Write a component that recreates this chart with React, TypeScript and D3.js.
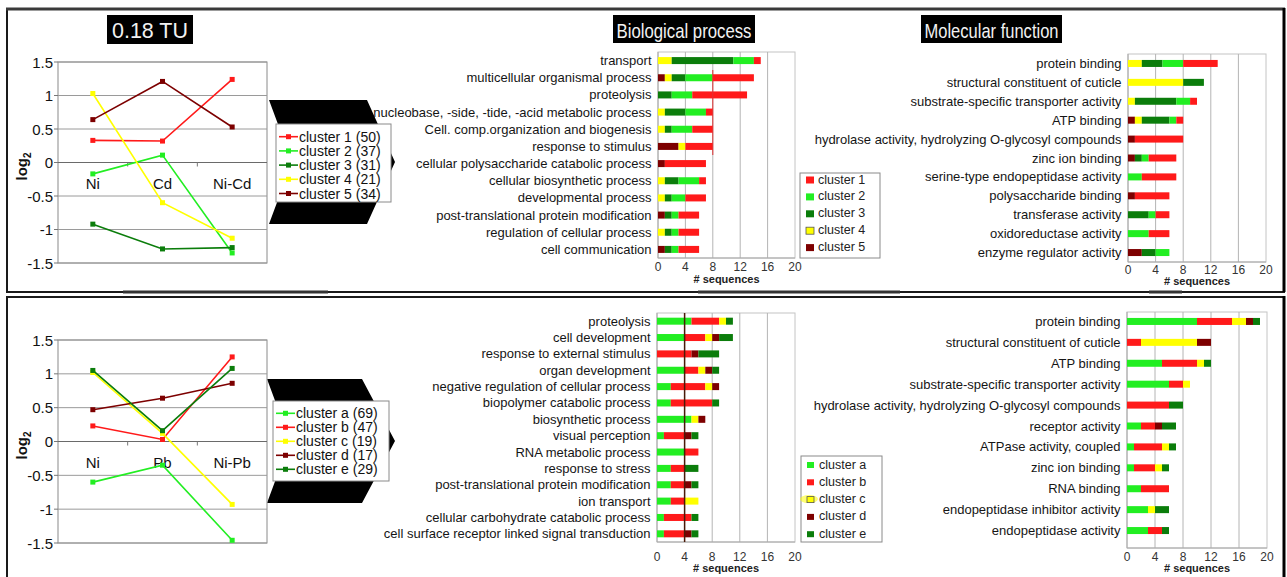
import React from "react";
import * as d3 from "d3";

const FONT = "'Liberation Sans', Arial, Helvetica, sans-serif";

const RED = "#ff1a1a";
const GREEN = "#22ee22";
const DKGREEN = "#0b7d0b";
const YELLOW = "#ffff00";
const DKRED = "#7d0000";

// ---------- top profile chart (0.18 TU) ----------
const topConditions = ["Ni", "Cd", "Ni-Cd"];
const topClusterNames = ["cluster 1", "cluster 2", "cluster 3", "cluster 4", "cluster 5"];
const topClusterSizes = [50, 37, 31, 21, 34];
const topCluster1 = [0.33, 0.32, 1.24];
const topCluster2 = [-0.17, 0.11, -1.35];
const topCluster3 = [-0.92, -1.29, -1.27];
const topCluster4 = [1.03, -0.6, -1.13];
const topCluster5 = [0.64, 1.21, 0.53];
const topLineColors = [RED, GREEN, DKGREEN, YELLOW, DKRED];

// ---------- bottom profile chart ----------
const botConditions = ["Ni", "Pb", "Ni-Pb"];
const botClusterNames = ["cluster a", "cluster b", "cluster c", "cluster d", "cluster e"];
const botClusterSizes = [69, 47, 19, 17, 29];
const botClusterA = [-0.6, -0.35, -1.46];
const botClusterB = [0.23, 0.03, 1.25];
const botClusterC = [1.02, 0.12, -0.93];
const botClusterD = [0.47, 0.64, 0.86];
const botClusterE = [1.05, 0.16, 1.08];
const botLineColors = [GREEN, RED, YELLOW, DKRED, DKGREEN];

const logTicks = [-1.5, -1, -0.5, 0, 0.5, 1, 1.5];
const seqTicks = [0, 4, 8, 12, 16, 20];

// ---------- top biological process ----------
const topBPCategories = [
  "transport",
  "multicellular organismal process",
  "proteolysis",
  "nucleobase, -side, -tide, -acid metabolic process",
  "Cell. comp.organization and biogenesis",
  "response to stimulus",
  "cellular polysaccharide catabolic process",
  "cellular biosynthetic process",
  "developmental process",
  "post-translational protein modification",
  "regulation of cellular process",
  "cell communication",
];
const topBP_c1 = [1, 6, 8, 1, 3, 4, 6, 1, 3, 3, 3, 3];
const topBP_c2 = [3, 4, 3, 3, 3, 0, 0, 3, 2, 1, 1, 1];
const topBP_c3 = [9, 2, 2, 3, 1, 0, 0, 2, 1, 1, 1, 1];
const topBP_c4 = [2, 1, 0, 1, 1, 1, 0, 1, 1, 0, 1, 0];
const topBP_c5 = [0, 1, 0, 0, 0, 3, 1, 0, 0, 1, 0, 1];

// ---------- top molecular function ----------
const topMFCategories = [
  "protein binding",
  "structural constituent of cuticle",
  "substrate-specific transporter activity",
  "ATP binding",
  "hydrolase activity, hydrolyzing O-glycosyl compounds",
  "zinc ion binding",
  "serine-type endopeptidase activity",
  "polysaccharide binding",
  "transferase activity",
  "oxidoreductase activity",
  "enzyme regulator activity",
];
const topMF_c1 = [5, 0, 1, 1, 7, 4, 5, 5, 2, 3, 0];
const topMF_c2 = [3, 0, 2, 1, 0, 1, 2, 0, 1, 3, 2];
const topMF_c3 = [3, 3, 6, 4, 0, 1, 0, 0, 3, 0, 2];
const topMF_c4 = [2, 8, 1, 1, 0, 0, 0, 0, 0, 0, 0];
const topMF_c5 = [0, 0, 0, 1, 1, 1, 0, 1, 0, 0, 2];

// ---------- bottom biological process ----------
const botBPCategories = [
  "proteolysis",
  "cell development",
  "response to external stimulus",
  "organ development",
  "negative regulation of cellular process",
  "biopolymer catabolic process",
  "biosynthetic process",
  "visual perception",
  "RNA metabolic process",
  "response to stress",
  "post-translational protein modification",
  "ion transport",
  "cellular carbohydrate catabolic process",
  "cell surface receptor linked signal transduction",
];
const botBP_a = [5, 4, 0, 4, 2, 2, 5, 1, 4, 2, 2, 2, 1, 1];
const botBP_b = [4, 3, 5, 2, 5, 6, 0, 3, 2, 2, 2, 2, 4, 3];
const botBP_c = [1, 1, 0, 1, 1, 0, 1, 0, 0, 0, 0, 2, 0, 0];
const botBP_d = [0, 1, 1, 1, 1, 0, 1, 1, 0, 0, 1, 0, 0, 1];
const botBP_e = [1, 2, 3, 1, 0, 1, 0, 1, 0, 2, 1, 0, 1, 1];

// ---------- bottom molecular function ----------
const botMFCategories = [
  "protein binding",
  "structural constituent of cuticle",
  "ATP binding",
  "substrate-specific transporter activity",
  "hydrolase activity, hydrolyzing O-glycosyl compounds",
  "receptor activity",
  "ATPase activity, coupled",
  "zinc ion binding",
  "RNA binding",
  "endopeptidase inhibitor activity",
  "endopeptidase activity",
];
const botMF_a = [10, 0, 5, 6, 0, 2, 1, 1, 2, 3, 3];
const botMF_b = [5, 2, 5, 2, 6, 2, 4, 3, 4, 0, 2];
const botMF_c = [2, 8, 1, 1, 0, 0, 1, 1, 0, 1, 0];
const botMF_d = [1, 2, 0, 0, 0, 1, 0, 0, 0, 0, 0];
const botMF_e = [1, 0, 1, 0, 2, 2, 1, 1, 0, 2, 1];

const topBarLegend = ["cluster 1", "cluster 2", "cluster 3", "cluster 4", "cluster 5"];
const topBarLegendColors = [RED, GREEN, DKGREEN, YELLOW, DKRED];
const botBarLegend = ["cluster a", "cluster b", "cluster c", "cluster d", "cluster e"];
const botBarLegendColors = [GREEN, RED, YELLOW, DKRED, DKGREEN];

type Series = { values: number[]; color: string; name: string; size: number };

function ProfileChart(props: {
  x0: number; x1: number; y0: number; y1: number;
  conditions: string[]; series: Series[];
  legend: { x: number; y: number; w: number; h: number; rowY: number; step: number };
}) {
  const { x0, x1, y0, y1, conditions, series, legend } = props;
  const y = d3.scaleLinear().domain([-1.5, 1.5]).range([y1, y0]);
  const xb = d3.scaleBand().domain(conditions).range([x0, x1]);
  const cx = (c: string) => (xb(c) as number) + xb.bandwidth() / 2;
  const line = d3.line<number>().x((_, i) => cx(conditions[i])).y((v) => y(v));
  const zero = y(0);
  return (
    <g fontFamily={FONT}>
      <rect x={x0} y={y0} width={x1 - x0} height={y1 - y0} fill="white" stroke="#8a8a8a" />
      {logTicks.map((t) => (
        <g key={t}>
          <line x1={x0} x2={x1} y1={y(t)} y2={y(t)} stroke={t === 0 ? "#6a6a6a" : "#9a9a9a"} strokeWidth={1} />
          <line x1={x0 - 4} x2={x0} y1={y(t)} y2={y(t)} stroke="#777" />
          <text x={x0 - 5} y={y(t)} fontSize={15} textAnchor="end" dominantBaseline="central" fill="#111">
            {String(t)}
          </text>
        </g>
      ))}
      {conditions.slice(1).map((c) => (
        <line key={c} x1={xb(c) as number} x2={xb(c) as number} y1={zero} y2={zero + 4} stroke="#777" />
      ))}
      {conditions.map((c) => (
        <text key={c} x={cx(c)} y={zero + 21} fontSize={15} textAnchor="middle" dominantBaseline="central" fill="#111">
          {c}
        </text>
      ))}
      <text
        transform={`translate(${x0 - 31},${zero + 4}) rotate(-90)`}
        fontSize={15}
        fontWeight="bold"
        textAnchor="middle"
        fill="#111"
      >
        log<tspan fontSize={10} dy={4}>2</tspan>
      </text>
      {series.map((s, k) => (
        <g key={k}>
          <path d={line(s.values) as string} fill="none" stroke={s.color} strokeWidth={1.6} />
          {s.values.map((v, i) => (
            <rect key={i} x={cx(conditions[i]) - 2.5} y={y(v) - 2.5} width={5} height={5} fill={s.color} />
          ))}
        </g>
      ))}
      <rect x={legend.x} y={legend.y} width={legend.w} height={legend.h} fill="white" stroke="#8a8a8a" />
      {series.map((s, k) => {
        const ry = legend.rowY + k * legend.step;
        return (
          <g key={k}>
            <line x1={legend.x + 3} x2={legend.x + 22} y1={ry} y2={ry} stroke={s.color} strokeWidth={1.6} />
            <rect x={legend.x + 10} y={ry - 2.5} width={5} height={5} fill={s.color} />
            <text x={legend.x + 23} y={ry} fontSize={14} dominantBaseline="central" fill="#111">
              {`${s.name} (${s.size})`}
            </text>
          </g>
        );
      })}
    </g>
  );
}

function StackedBars(props: {
  x0: number; x1: number; y0: number; y1: number; bandTop: number; bandBottom: number;
  categories: string[]; keys: string[]; values: number[][]; colors: string[];
  barH: number; tickY: number; titleY: number;
  overlay?: { value: number; from: number; to: number; color: string; width: number };
}) {
  const { x0, x1, y0, y1, bandTop, bandBottom, categories, keys, values, colors, barH, tickY, titleY, overlay } = props;
  const x = d3.scaleLinear().domain([0, 20]).range([x0, x1]);
  const y = d3.scaleBand().domain(categories).range([bandTop, bandBottom]);
  const rows = categories.map((c, i) => {
    const r: Record<string, number | string> = { cat: c };
    keys.forEach((k, j) => (r[k] = values[j][i]));
    return r;
  });
  const stacked = d3.stack<Record<string, number | string>>().keys(keys)(rows as any);
  const cy = (c: string) => (y(c) as number) + y.bandwidth() / 2;
  return (
    <g fontFamily={FONT}>
      <rect x={x0} y={y0} width={x1 - x0} height={y1 - y0} fill="white" stroke="#c4c4c4" />
      {seqTicks.slice(1, -1).map((t) => (
        <line key={t} x1={x(t)} x2={x(t)} y1={y0} y2={y1} stroke="#b4b4b4" />
      ))}
      <line x1={x0} x2={x0} y1={y0} y2={y1} stroke="#a8a8a8" />
      <line x1={x0} x2={x1} y1={y1} y2={y1} stroke="#a8a8a8" />
      {stacked.map((layer, j) => (
        <g key={keys[j]} fill={colors[j]}>
          {layer.map((d, i) =>
            d[1] - d[0] > 0 ? (
              <rect
                key={i}
                x={x(d[0])}
                width={x(d[1]) - x(d[0])}
                y={cy(categories[i]) - barH / 2}
                height={barH}
              />
            ) : null
          )}
        </g>
      ))}
      {overlay && (
        <line
          x1={x(overlay.value)}
          x2={x(overlay.value)}
          y1={overlay.from}
          y2={overlay.to}
          stroke={overlay.color}
          strokeWidth={overlay.width}
        />
      )}
      {categories.map((c) => (
        <text key={c} x={x0 - 6.5} y={cy(c)} fontSize={13} textAnchor="end" dominantBaseline="central" fill="#151515">
          {c}
        </text>
      ))}
      {seqTicks.map((t) => (
        <text key={t} x={x(t)} y={tickY} fontSize={12} textAnchor="middle" dominantBaseline="central" fill="#333">
          {t}
        </text>
      ))}
      <text x={(x0 + x1) / 2} y={titleY} fontSize={11} fontWeight="bold" textAnchor="middle" dominantBaseline="central" fill="#222">
        # sequences
      </text>
    </g>
  );
}

function SwatchLegend(props: {
  x: number; y: number; w: number; h: number; rowY: number; step: number;
  names: string[]; colors: string[]; sw: number; glowIndex?: number;
}) {
  const { x, y, w, h, rowY, step, names, colors, sw, glowIndex } = props;
  return (
    <g fontFamily={FONT}>
      <rect x={x} y={y} width={w} height={h} fill="white" stroke="#8a8a8a" />
      {names.map((n, i) => {
        const ry = rowY + i * step;
        return (
          <g key={n}>
            {glowIndex === i && (
              <ellipse cx={x + 8} cy={ry} rx={9} ry={4} fill={YELLOW} opacity={0.55} />
            )}
            <rect
              x={x + 6}
              y={ry - sw / 2 + 0.5}
              width={sw + 1}
              height={sw}
              fill={colors[i]}
              stroke={colors[i] === YELLOW ? "#555" : "none"}
              strokeWidth={0.8}
            />
            <text x={x + 18} y={ry} fontSize={12.5} dominantBaseline="central" fill="#222">
              {n}
            </text>
          </g>
        );
      })}
    </g>
  );
}

function TitleBox(props: { x: number; y: number; w: number; h: number; text: string; size: number; tl: number }) {
  const { x, y, w, h, text, size, tl } = props;
  return (
    <g fontFamily={FONT}>
      <rect x={x} y={y} width={w} height={h} fill="#000" />
      <text
        x={x + w / 2}
        y={y + h / 2 + 1}
        fontSize={size}
        fill="#f2f2f2"
        textAnchor="middle"
        dominantBaseline="central"
        textLength={tl}
        lengthAdjust="spacingAndGlyphs"
      >
        {text}
      </text>
    </g>
  );
}

export default function App() {
  const topSeries: Series[] = [topCluster1, topCluster2, topCluster3, topCluster4, topCluster5].map((v, i) => ({
    values: v,
    color: topLineColors[i],
    name: topClusterNames[i],
    size: topClusterSizes[i],
  }));
  const botSeries: Series[] = [botClusterA, botClusterB, botClusterC, botClusterD, botClusterE].map((v, i) => ({
    values: v,
    color: botLineColors[i],
    name: botClusterNames[i],
    size: botClusterSizes[i],
  }));
  const chevron = (pts: number[][]) => d3.line()(pts as [number, number][]) + "Z";

  return (
    <svg width={1287} height={577} style={{ position: "absolute", left: 0, top: 0, background: "#fff" }}>
      <rect x={0} y={0} width={1287} height={577} fill="#fff" />
      {/* frames */}
      <rect x={7} y={9} width={1277} height={283} fill="none" stroke="#1a1a1a" strokeWidth={2} />
      <line x1={6} x2={1285} y1={9} y2={9} stroke="#3a3a3a" strokeWidth={3} />
      <line x1={1284} x2={1284} y1={8} y2={292} stroke="#000" strokeWidth={3} />
      <line x1={123} x2={328} y1={292} y2={292} stroke="#333" strokeWidth={3} />
      <line x1={698} x2={900} y1={292} y2={292} stroke="#333" strokeWidth={3} />
      <line x1={1149} x2={1182} y1={292} y2={292} stroke="#333" strokeWidth={3} />
      <rect x={7} y={297} width={1277} height={290} fill="none" stroke="#1a1a1a" strokeWidth={2} />
      <line x1={1284} x2={1284} y1={296} y2={577} stroke="#000" strokeWidth={3} />

      {/* titles */}
      <TitleBox x={107} y={15} w={86} h={29} text="0.18 TU" size={22} tl={76} />
      <TitleBox x={613} y={15} w={142} h={28} text="Biological process" size={21} tl={135} />
      <TitleBox x={921} y={15} w={141} h={28} text="Molecular function" size={21} tl={134} />

      {/* chevrons */}
      <path d={chevron([[269, 100], [367, 100], [395, 162], [367, 224], [269, 224], [292, 162]])} fill="#000" />
      <path d={chevron([[267, 379], [362, 379], [395, 441], [362, 503], [267, 503], [290, 441]])} fill="#000" />

      <ProfileChart
        x0={58}
        x1={267}
        y0={62}
        y1={263}
        conditions={topConditions}
        series={topSeries}
        legend={{ x: 276, y: 124, w: 115, h: 78, rowY: 136.7, step: 14.2 }}
      />
      <ProfileChart
        x0={58}
        x1={267}
        y0={340}
        y1={543}
        conditions={botConditions}
        series={botSeries}
        legend={{ x: 273, y: 401, w: 116, h: 80, rowY: 413.3, step: 14 }}
      />

      <StackedBars
        x0={658}
        x1={795}
        y0={52}
        y1={258}
        bandTop={52}
        bandBottom={258}
        categories={topBPCategories}
        keys={["c5", "c4", "c3", "c2", "c1"]}
        values={[topBP_c5, topBP_c4, topBP_c3, topBP_c2, topBP_c1]}
        colors={[DKRED, YELLOW, DKGREEN, GREEN, RED]}
        barH={7}
        tickY={267}
        titleY={279}
        overlay={{ value: 8, from: 70, to: 155, color: "#e03030", width: 1 }}
      />
      <StackedBars
        x0={1128}
        x1={1266}
        y0={54}
        y1={262}
        bandTop={54}
        bandBottom={262}
        categories={topMFCategories}
        keys={["c5", "c4", "c3", "c2", "c1"]}
        values={[topMF_c5, topMF_c4, topMF_c3, topMF_c2, topMF_c1]}
        colors={[DKRED, YELLOW, DKGREEN, GREEN, RED]}
        barH={7}
        tickY={270}
        titleY={281}
      />
      <StackedBars
        x0={657}
        x1={795}
        y0={313}
        y1={542}
        bandTop={313}
        bandBottom={542}
        categories={botBPCategories}
        keys={["a", "b", "c", "d", "e"]}
        values={[botBP_a, botBP_b, botBP_c, botBP_d, botBP_e]}
        colors={[GREEN, RED, YELLOW, DKRED, DKGREEN]}
        barH={7}
        tickY={557}
        titleY={568}
        overlay={{ value: 4, from: 313, to: 542, color: "#4a1a08", width: 1.5 }}
      />
      <StackedBars
        x0={1127}
        x1={1267}
        y0={312}
        y1={548}
        bandTop={311}
        bandBottom={541}
        categories={botMFCategories}
        keys={["a", "b", "c", "d", "e"]}
        values={[botMF_a, botMF_b, botMF_c, botMF_d, botMF_e]}
        colors={[GREEN, RED, YELLOW, DKRED, DKGREEN]}
        barH={7}
        tickY={557}
        titleY={568}
      />

      <SwatchLegend
        x={800}
        y={173}
        w={80}
        h={85}
        rowY={179.5}
        step={16.9}
        names={topBarLegend}
        colors={topBarLegendColors}
        sw={7}
      />
      <SwatchLegend
        x={801}
        y={456}
        w={81}
        h={86}
        rowY={464.5}
        step={17.3}
        names={botBarLegend}
        colors={botBarLegendColors}
        sw={6}
        glowIndex={2}
      />
    </svg>
  );
}
